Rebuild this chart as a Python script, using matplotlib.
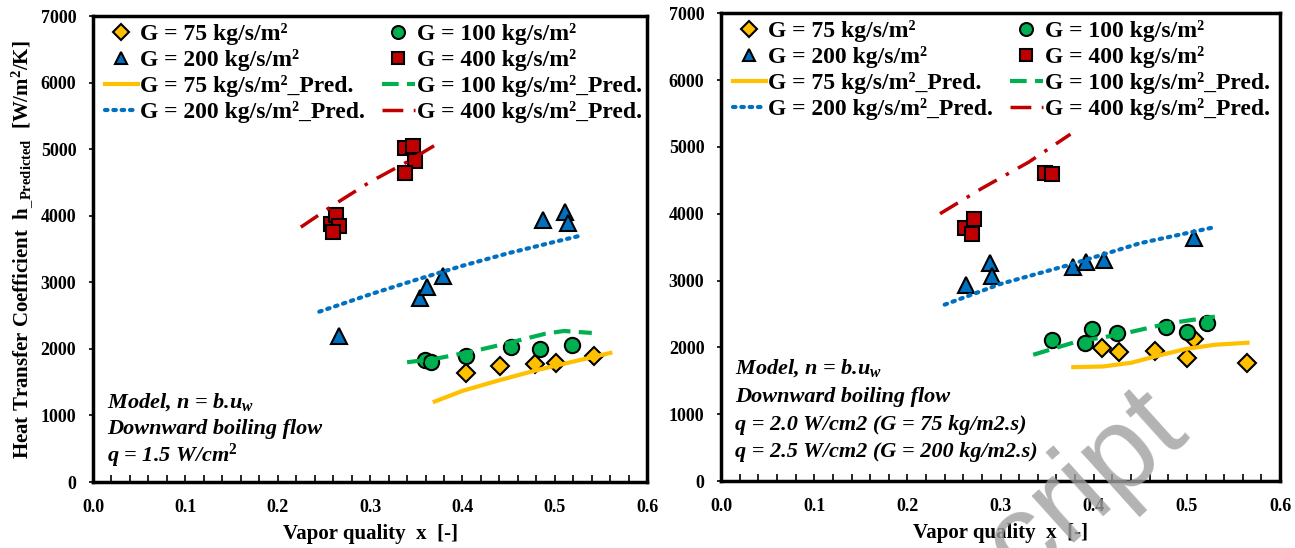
import matplotlib
matplotlib.use("Agg")
import matplotlib.pyplot as plt
from matplotlib.ticker import MultipleLocator

plt.rcParams['font.family'] = ['Liberation Serif', 'DejaVu Serif']
plt.rcParams['font.weight'] = 'bold'
plt.rcParams['mathtext.fontset'] = 'custom'
plt.rcParams['mathtext.rm'] = 'Liberation Serif'
plt.rcParams['mathtext.bf'] = 'Liberation Serif:bold'
plt.rcParams['mathtext.it'] = 'Liberation Serif:italic:bold'

# ---- left panel: q = 1.5 W/cm2 ----
L_x75 = [0.404, 0.441, 0.478, 0.501, 0.542]
L_y75 = [1645, 1745, 1770, 1785, 1890]
L_x100 = [0.359, 0.366, 0.404, 0.452, 0.484, 0.519]
L_y100 = [1840, 1800, 1890, 2025, 2000, 2060]
L_x200 = [0.266, 0.354, 0.362, 0.379, 0.487, 0.511, 0.514]
L_y200 = [2190, 2770, 2930, 3090, 3935, 4065, 3890]
L_x400 = [0.338, 0.346, 0.349, 0.338, 0.258, 0.263, 0.266, 0.260]
L_y400 = [5025, 5045, 4830, 4650, 3870, 4010, 3840, 3750]

L_px75 = [0.37, 0.40, 0.44, 0.48, 0.52, 0.56]
L_py75 = [1210, 1370, 1530, 1680, 1810, 1940]
L_px100 = [0.34, 0.37, 0.41, 0.45, 0.49, 0.51, 0.54]
L_py100 = [1800, 1850, 1960, 2090, 2230, 2270, 2240]
L_px200 = [0.245, 0.30, 0.35, 0.40, 0.45, 0.50, 0.53]
L_py200 = [2560, 2820, 3040, 3250, 3440, 3610, 3710]
L_px400 = [0.225, 0.26, 0.30, 0.34, 0.37]
L_py400 = [3830, 4160, 4510, 4810, 5060]

# ---- right panel: q = 2.0 / 2.5 W/cm2 ----
R_x75 = [0.409, 0.427, 0.466, 0.500, 0.508, 0.564]
R_y75 = [1995, 1927, 1952, 1845, 2132, 1772]
R_x100 = [0.355, 0.391, 0.398, 0.425, 0.478, 0.500, 0.522]
R_y100 = [2115, 2067, 2282, 2216, 2306, 2235, 2362]
R_x200 = [0.263, 0.289, 0.291, 0.378, 0.392, 0.411, 0.508]
R_y200 = [2940, 3265, 3073, 3205, 3282, 3315, 3640]
R_x400 = [0.348, 0.355, 0.262, 0.272, 0.269]
R_y400 = [4607, 4590, 3790, 3915, 3690]

R_px75 = [0.378, 0.41, 0.44, 0.47, 0.50, 0.53, 0.565]
R_py75 = [1705, 1715, 1770, 1880, 1980, 2040, 2070]
R_px100 = [0.335, 0.38, 0.43, 0.48, 0.53]
R_py100 = [1890, 2080, 2200, 2360, 2460]
R_px200 = [0.24, 0.30, 0.37, 0.45, 0.53]
R_py200 = [2640, 2950, 3220, 3560, 3800]
R_px400 = [0.235, 0.28, 0.33, 0.375]
R_py400 = [4000, 4380, 4770, 5190]

labels = ['G = 75 kg/s/m²', 'G = 100 kg/s/m²', 'G = 200 kg/s/m²', 'G = 400 kg/s/m²']
yellow, green, blue, red = '#FFC000', '#00B050', '#0070C0', '#C00000'


def panel(ax, d, notes):
    h75, = ax.plot(d[0], d[1], 'D', ms=9, mfc=yellow, mec='black', mew=1.5, label=labels[0])
    h100, = ax.plot(d[2], d[3], 'o', ms=11, mfc=green, mec='black', mew=1.5, label=labels[1])
    h200, = ax.plot(d[4], d[5], '^', ms=11, mfc=blue, mec='black', mew=1.5, label=labels[2])
    h400, = ax.plot(d[6], d[7], 's', ms=10, mfc=red, mec='black', mew=1.5, label=labels[3])
    p75, = ax.plot(d[8], d[9], '-', color=yellow, lw=3, label=labels[0] + '_Pred.')
    p100, = ax.plot(d[10], d[11], color=green, lw=3, ls=(0, (4, 2)), label=labels[1] + '_Pred.')
    p200, = ax.plot(d[12], d[13], color=blue, lw=3, ls=(0, (0.6, 1.4)),
                    dash_capstyle='round', label=labels[2] + '_Pred.')
    p400, = ax.plot(d[14], d[15], color=red, lw=2.5, ls=(0, (6, 3, 1, 3)), label=labels[3] + '_Pred.')
    hs = [h75, h200, p75, p200, h100, h400, p100, p400]
    ax.legend(handles=hs, ncol=2, loc='upper left', frameon=False,
              prop={'size': 17, 'weight': 'bold'}, handlelength=1.4,
              handletextpad=0.1, labelspacing=0.17, columnspacing=0.7,
              borderaxespad=0.1, bbox_to_anchor=(0.0, 1.01), markerscale=0.85)
    ax.set_xlim(0, 0.6)
    ax.set_ylim(0, 7000)
    ax.xaxis.set_major_locator(MultipleLocator(0.1))
    ax.xaxis.set_minor_locator(MultipleLocator(0.02))
    ax.yaxis.set_major_locator(MultipleLocator(1000))
    ax.tick_params(axis='x', which='both', direction='in', length=5, width=1.2, pad=12, labelsize=13)
    ax.tick_params(axis='y', direction='out', length=3, width=1.2, pad=9, labelsize=13)
    ax.set_xticklabels([f'{v:.1f}' for v in ax.get_xticks()])
    for s in ax.spines.values():
        s.set_linewidth(2.5)
    ax.set_xlabel('Vapor quality  x  [-]', fontsize=15, fontweight='bold')
    ax.xaxis.set_label_coords(0.5, -0.09)
    for i, t in enumerate(notes):
        ax.text(0.025, notes_y[len(notes)][i], t, transform=ax.transAxes, fontsize=16,
                fontstyle='italic', fontweight='bold', va='center')


fig = plt.figure(figsize=(12.95, 5.48), dpi=100)
ax1 = fig.add_axes([0.0718, 0.1204, 0.428, 0.850])
ax2 = fig.add_axes([0.5568, 0.1220, 0.4317, 0.854])

notes_y = {3: [0.172, 0.114, 0.056], 4: [0.242, 0.18, 0.12, 0.062]}

panel(ax1, [L_x75, L_y75, L_x100, L_y100, L_x200, L_y200, L_x400, L_y400,
            L_px75, L_py75, L_px100, L_py100, L_px200, L_py200, L_px400, L_py400],
      ['Model, n = b.u$_w$', 'Downward boiling flow', 'q = 1.5 W/cm$^{2}$'])
panel(ax2, [R_x75, R_y75, R_x100, R_y100, R_x200, R_y200, R_x400, R_y400,
            R_px75, R_py75, R_px100, R_py100, R_px200, R_py200, R_px400, R_py400],
      ['Model, n = b.u$_w$', 'Downward boiling flow',
       'q = 2.0 W/cm2 (G = 75 kg/m2.s)', 'q = 2.5 W/cm2 (G = 200 kg/m2.s)'])

fig.text(22 / 1295, 0.545,
         r'Heat Transfer Coefficient  h$_{\mathbf{\_Predicted}}$  $\mathrm{[W/m^2/K]}$',
         rotation=90, ha='center', va='center', fontsize=15, fontweight='bold')

# watermark fragment (bottom-right, partly outside the figure)
fig.text(0.822, 0.075, 'script', rotation=42, ha='center', va='center', fontsize=86,
         family='Liberation Sans', fontweight='normal', color='#a0a0a0', alpha=0.8, zorder=10)

fig.savefig('out.png', dpi=100)
